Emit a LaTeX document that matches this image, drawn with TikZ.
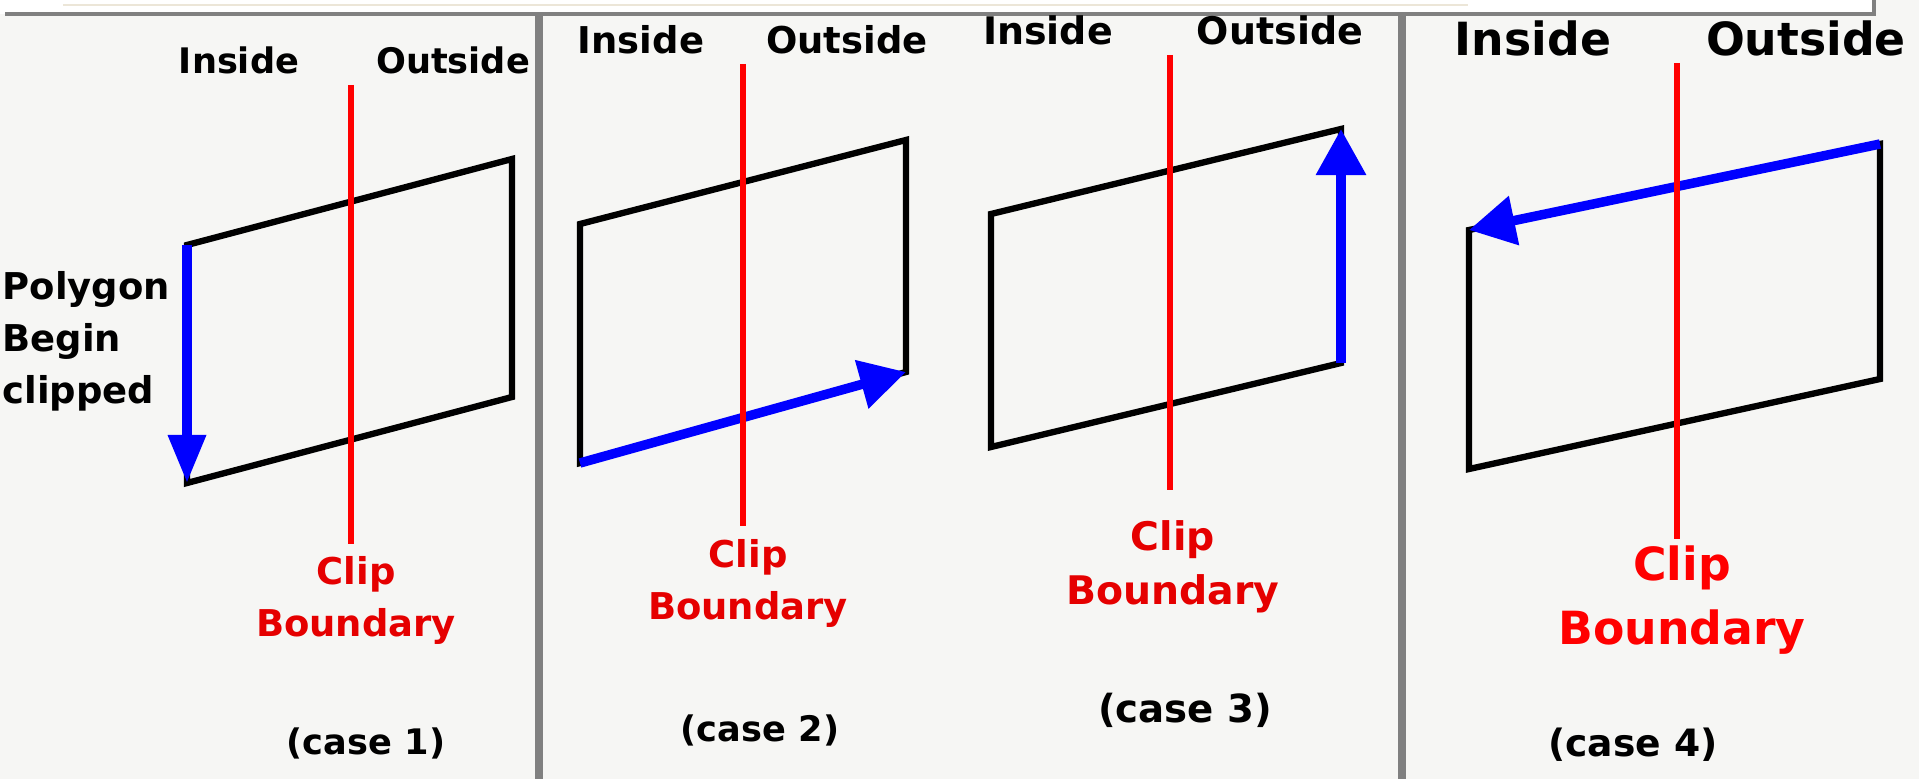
\documentclass[tikz,border=0pt]{standalone}
\usepackage{fontspec}
\setmainfont{DejaVu Sans}
\usetikzlibrary{arrows.meta}

\definecolor{paper}{HTML}{F6F6F4}
\definecolor{frame}{HTML}{808080}
\definecolor{rule}{HTML}{ECE6D8}

\begin{document}
\begin{tikzpicture}[x=0.01cm, y=-0.01cm,
  lbl/.style={inner sep=0pt, font=\fontsize{10}{12}\selectfont\bfseries},
  big/.style={inner sep=0pt, font=\fontsize{13}{15}\selectfont\bfseries},
  tag/.style={align=center, inner sep=0pt, text=red!90!black, font=\fontsize{10.5}{14.8}\selectfont\bfseries},
  bound/.style={red, line width=1.7pt},
  poly/.style={draw=black, line width=1.8pt},
  walk/.style={blue, line width=2.7pt, -{Triangle[length=4.6mm, width=4.8mm]}},
  divider/.style={frame, line width=2.3pt}
]
\useasboundingbox (0,0) rectangle (1919,779);
\fill[paper] (0,0) rectangle (1919,779);
\fill[white] (0,0) rectangle (1874,14);
\draw[rule, line width=0.4pt] (63,5) -- (1468,5);
\draw[frame, line width=1.4pt] (5,14) -- (1874,14) -- (1874,0);
\draw[divider] (539,16) -- (539,779);
\draw[divider] (1402,16) -- (1402,779);

% case 1
\coordinate (a1) at (187,245); \coordinate (b1) at (512,159);
\coordinate (c1) at (512,397); \coordinate (d1) at (187,483);
\coordinate (top1) at (351,85); \coordinate (bot1) at (351,544);
\draw[poly] (a1) -- (b1) -- (c1) -- (d1) -- cycle;
\draw[walk, -{Triangle[length=4.8mm, width=3.6mm]}] (a1) -- (d1);
\draw[bound] (top1) -- (bot1);
\node[lbl] (in1) at (239,60) {Inside};
\node[lbl] (out1) at (453,60) {Outside};
\node[lbl, align=left, anchor=west, font=\fontsize{10.5}{14.8}\selectfont\bfseries] (note) at (2,341) {Polygon\\Begin\\clipped};
\node[tag] (cb1) at (356,600) {Clip\\Boundary};
\node[lbl] (case1) at (366,743) {(case 1)};

% case 2
\coordinate (a2) at (580,224); \coordinate (b2) at (906,140);
\coordinate (c2) at (906,372); \coordinate (d2) at (580,463);
\coordinate (top2) at (743,64); \coordinate (bot2) at (743,526);
\draw[poly] (a2) -- (b2) -- (c2) -- (d2) -- cycle;
\draw[walk] (d2) -- (c2);
\draw[bound] (top2) -- (bot2);
\node[lbl, font=\fontsize{10.5}{12}\selectfont\bfseries] (in2) at (641,40) {Inside};
\node[lbl, font=\fontsize{10.5}{12}\selectfont\bfseries] (out2) at (847,40) {Outside};
\node[tag] (cb2) at (748,583) {Clip\\Boundary};
\node[lbl] (case2) at (760,730) {(case 2)};

% case 3
\coordinate (a3) at (991,214); \coordinate (b3) at (1341,129);
\coordinate (c3) at (1341,363); \coordinate (d3) at (991,447);
\coordinate (top3) at (1170,55); \coordinate (bot3) at (1170,490);
\draw[poly] (a3) -- (b3) -- (c3) -- (d3) -- cycle;
\draw[walk] (c3) -- (b3);
\draw[bound] (top3) -- (bot3);
\node[lbl, font=\fontsize{10.8}{12}\selectfont\bfseries] (in3) at (1048,30) {Inside};
\node[lbl, font=\fontsize{10.8}{12}\selectfont\bfseries] (out3) at (1280,30) {Outside};
\node[tag, font=\fontsize{11.2}{15.5}\selectfont\bfseries] (cb3) at (1173,567) {Clip\\Boundary};
\node[lbl, font=\fontsize{11}{12}\selectfont\bfseries] (case3) at (1185,710) {(case 3)};

% case 4
\coordinate (a4) at (1469,230); \coordinate (b4) at (1880,144);
\coordinate (c4) at (1880,379); \coordinate (d4) at (1469,469);
\coordinate (top4) at (1677,63); \coordinate (bot4) at (1677,539);
\draw[poly] (a4) -- (b4) -- (c4) -- (d4) -- cycle;
\draw[walk] (b4) -- (a4);
\draw[bound] (top4) -- (bot4);
\node[big] (in4) at (1533,38) {Inside};
\node[big] (out4) at (1806,38) {Outside};
\node[tag, text=red, font=\fontsize{13}{18}\selectfont\bfseries] (cb4) at (1682,600) {Clip\\Boundary};
\node[lbl, font=\fontsize{10.7}{12}\selectfont\bfseries] (case4) at (1633,745) {(case 4)};
\end{tikzpicture}
\end{document}
